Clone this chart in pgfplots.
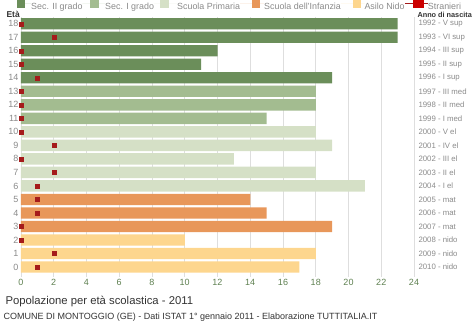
\documentclass[border=0pt]{standalone}
\usepackage{pgfplots}
\pgfplotsset{compat=1.18}
\usepackage{fontspec}
\setmainfont{Liberation Sans}
\definecolor{secII}{HTML}{6B8E5A}
\definecolor{secI}{HTML}{A3BC90}
\definecolor{prim}{HTML}{D5E0C6}
\definecolor{inf}{HTML}{E8975A}
\definecolor{nido}{HTML}{FDD68E}
\definecolor{stra}{HTML}{A51B1B}
\definecolor{strabox}{HTML}{CC0000}
\definecolor{txtgray}{HTML}{8A8A8A}
\definecolor{ticgreen}{HTML}{5E8050}
\definecolor{dark}{HTML}{333333}
\begin{document}
\begin{tikzpicture}
\useasboundingbox (-21pt,-49pt) rectangle (453pt,277pt);
\begin{axis}[
  at={(0,0)}, anchor=south west,
  scale only axis, width=393pt, height=260pt,
  xmin=0, xmax=24, ymin=-0.74, ymax=18.5,
  xtick={0,2,...,24}, ytick={0,...,18},
  xmajorgrids, grid style={color=black!13, line width=0.6pt},
  axis line style={draw=none}, major tick length=0pt,
  clip=false,
  /pgf/number format/assume math mode=true,
  xticklabel style={font=\fontsize{9}{10}\selectfont, text=ticgreen, yshift=1pt},
  yticklabel style={font=\fontsize{9}{10}\selectfont, text=txtgray, xshift=1pt},
  legend columns=6,
  legend style={at={([xshift=-4pt,yshift=12.5pt]axis description cs:0,1)}, anchor=west,
    draw=none, fill=none, inner sep=0pt, column sep=0pt,
    nodes={inner sep=0pt, yshift=-3.5pt},
    font=\fontsize{8.9}{10}\selectfont, text=txtgray,
    /tikz/every even column/.style={column sep=0pt}},
]
\addplot[xbar, bar width=0.84, fill=secII, draw=none,
  legend image code/.code={\path (0pt,0pt) -- (14pt,0pt); \fill[secII] (0pt,-4.5pt) rectangle (8pt,4.5pt);}]
  table {
x y
23 18
23 17
12 16
11 15
19 14
};
\addlegendentry{Sec. II grado}
\addplot[xbar, bar width=0.84, fill=secI, draw=none,
  legend image code/.code={\path (-7.7pt,0pt) -- (15pt,0pt); \fill[secI] (0pt,-4.5pt) rectangle (9pt,4.5pt);}]
  table {
x y
18 13
18 12
15 11
};
\addlegendentry{Sec. I grado}
\addplot[xbar, bar width=0.84, fill=prim, draw=none,
  legend image code/.code={\path (-6.2pt,0pt) -- (17pt,0pt); \fill[prim] (0pt,-4.5pt) rectangle (9pt,4.5pt);}]
  table {
x y
18 10
19 9
13 8
18 7
21 6
};
\addlegendentry{Scuola Primaria}
\addplot[xbar, bar width=0.84, fill=inf, draw=none,
  legend image code/.code={\path (-12.2pt,0pt) -- (12pt,0pt); \fill[inf] (0pt,-4.5pt) rectangle (8pt,4.5pt);}]
  table {
x y
14 5
15 4
19 3
};
\addlegendentry{Scuola dell'Infanzia}
\addplot[xbar, bar width=0.84, fill=nido, draw=none,
  legend image code/.code={\path (-11.6pt,0pt) -- (12pt,0pt); \fill[nido] (0pt,-4.5pt) rectangle (8pt,4.5pt);}]
  table {
x y
10 2
18 1
17 0
};
\addlegendentry{Asilo Nido}
\addplot[only marks, mark=square*, mark size=2pt, color=stra,
  legend image code/.code={\path (-8pt,0pt) -- (15pt,0pt); \fill[strabox] (0pt,-4.5pt) rectangle (10pt,4.5pt);}]
  table {
x y
0 18
2 17
0 16
0 15
1 14
0 13
0 12
0 11
0 10
2 9
0 8
2 7
1 6
1 5
1 4
0 3
0 2
2 1
1 0
};
\addlegendentry{Stranieri}
\node[anchor=base west, font=\fontsize{8.5}{9}\selectfont\bfseries, text=dark] at ([xshift=-18pt,yshift=-1pt]axis description cs:0,1) {Età};
\node[anchor=base west, font=\fontsize{7.3}{9}\selectfont\bfseries, text=dark] at ([xshift=0pt,yshift=-1pt]axis description cs:1,1) {Anno di nascita};
\node[anchor=base west, font=\fontsize{11.3}{13}\selectfont, text=dark] at ([xshift=-19pt,yshift=-28pt]axis description cs:0,0) {Popolazione per età scolastica - 2011};
\node[anchor=base west, font=\fontsize{9}{10}\selectfont, text=dark] at ([xshift=-21pt,yshift=-43pt]axis description cs:0,0) {COMUNE DI MONTOGGIO (GE) - Dati ISTAT 1° gennaio 2011 - Elaborazione TUTTITALIA.IT};
\end{axis}
\begin{axis}[
  at={(0,0)}, anchor=south west,
  scale only axis, width=393pt, height=260pt,
  xmin=0, xmax=24, ymin=-0.74, ymax=18.5,
  hide x axis, axis line style={draw=none}, major tick length=0pt,
  ytick={0,...,18}, yticklabel pos=right,
  yticklabels={2010 - nido,2009 - nido,2008 - nido,2007 - mat,2006 - mat,2005 - mat,2004 - I el,2003 - II el,2002 - III el,2001 - IV el,2000 - V el,1999 - I med,1998 - II med,1997 - III med,1996 - I sup,1995 - II sup,1994 - III sup,1993 - VI sup,1992 - V sup},
  yticklabel style={font=\fontsize{7.8}{9}\selectfont, text=txtgray, xshift=1pt},
]
\addplot[draw=none] coordinates {(0,0)};
\end{axis}
\end{tikzpicture}
\end{document}
